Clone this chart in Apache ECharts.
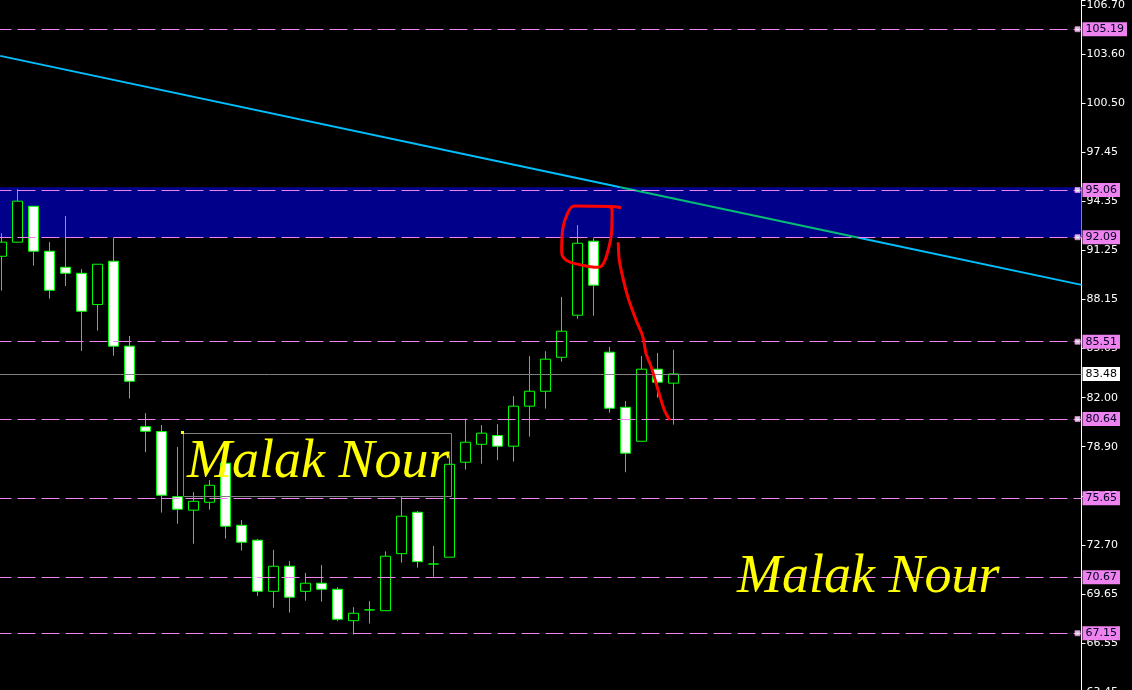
<!DOCTYPE html>
<html><head><meta charset="utf-8">
<script src="https://cdn.jsdelivr.net/npm/echarts@6/dist/echarts.min.js"></script>
<style>html,body{margin:0;padding:0;background:#000;overflow:hidden}#c{width:1132px;height:690px}</style>
</head><body><div id="c"></div>
<script>
// ---- data ----
const candleOpen  = [90.89,91.78,94.04,91.21,90.20,89.82,87.85,90.58,85.23,80.16,79.85,75.75,74.90,75.40,77.86,73.95,73.01,69.79,71.37,69.79,70.30,69.92,67.94,68.62,68.57,72.16,74.77,71.51,71.94,77.92,79.05,79.60,78.93,81.45,82.39,84.53,87.18,91.84,84.85,81.38,79.24,83.78,82.90];
const candleClose = [91.78,94.36,91.21,88.75,89.82,87.43,90.39,85.23,83.02,79.87,75.84,74.96,75.46,76.47,73.89,72.88,69.79,71.37,69.42,70.30,69.92,68.03,68.41,68.62,72.00,74.52,71.66,71.51,77.79,79.18,79.75,78.93,81.45,82.39,84.41,86.17,91.71,89.07,81.32,78.49,83.78,82.96,83.48];
const candleLow   = [88.73,91.78,90.30,88.22,89.02,84.93,86.21,84.63,81.93,78.55,74.75,74.05,72.79,74.93,73.11,72.35,69.50,68.76,68.45,69.20,69.14,67.91,67.06,67.76,68.57,71.60,71.28,70.71,71.94,77.45,77.83,78.05,77.96,79.53,81.30,84.25,86.96,87.15,81.04,77.29,79.24,81.99,80.29];
const candleHigh  = [92.34,95.11,94.04,91.78,93.43,90.09,90.39,92.05,85.87,81.01,80.27,78.88,76.03,76.80,78.00,74.28,73.09,72.40,71.70,70.95,71.45,70.05,68.79,69.17,72.31,75.75,74.85,72.65,78.36,80.67,80.25,80.31,82.08,84.60,84.91,88.33,92.85,92.03,85.18,81.78,84.61,84.80,85.00];
const slotCount = 68;
const tickLabels = ['63.45','66.55','69.65','72.70','75.75','78.90','82.00','85.05','88.15','91.25','94.35','97.45','100.50','103.60','106.70'];
const levelLines = [105.19, 95.06, 92.09, 85.51, 80.64, 75.65, 70.67, 67.15];
const levelsWithSquare = [105.19, 95.06, 92.09, 85.51, 80.64, 67.15];
const currentPrice = 83.48;
const bandRange = [95.24, 92.06];
const trendLine = [[-0.08, 103.51], [67.5, 89.09]];
const redCircle = [[38.72,93.95],[38.09,94.02],[35.80,94.06],[35.38,93.60],[35.07,92.55],[35.01,91.18],[35.28,90.66],[36.21,90.35],[37.26,90.20],[37.57,90.35],[37.89,91.18],[38.14,92.55],[38.16,93.81],[37.98,94.06]];
const redCurve = [[38.55,91.78],[38.61,90.66],[38.82,89.61],[39.14,88.35],[39.66,86.88],[40.08,85.83],[40.28,84.78],[40.60,83.94],[40.91,82.90],[41.22,81.84],[41.47,81.11],[41.77,80.58]];
const watermark = 'Malak Nour';

// ---- build ----
const yMin = 63.45, yMax = 107.03, yInterval = 3.089286;
const cats = Array.from({length: slotCount}, (_, i) => String(i));
const candles = candleOpen.map((o, i) => [o, candleClose[i], candleLow[i], candleHigh[i]]);

// split the trend line where it crosses the band (colour changes there)
const [p0, p1] = trendLine;
const xAt = v => p0[0] + (v - p0[1]) * (p1[0] - p0[0]) / (p1[1] - p0[1]);
const tTop = [xAt(bandRange[0]), bandRange[0]];
const tBot = [xAt(bandRange[1]), bandRange[1]];
const squares = levelsWithSquare.map(v => [slotCount - 0.5, v]);

const FONT = 'DejaVu Sans';
const chart = echarts.init(document.getElementById('c'), null, {renderer: 'canvas'});
chart.setOption({
  backgroundColor: '#000',
  animation: false,
  grid: {left: -6.5, right: 50.5, top: 0, bottom: -2, containLabel: false, outerBoundsMode: 'none'},
  xAxis: [
    {type: 'category', data: cats, boundaryGap: true, show: false},
    {type: 'value', min: -0.5, max: slotCount - 0.5, show: false}
  ],
  yAxis: {
    type: 'value', position: 'right', min: yMin, max: yMax, interval: yInterval,
    splitLine: {show: false},
    axisLine: {show: true, onZero: false, lineStyle: {color: '#ffffff', width: 1}},
    axisTick: {show: true, length: 4, lineStyle: {color: '#ffffff'}},
    axisLabel: {
      color: '#ffffff', fontFamily: FONT, fontSize: 11, margin: 5,
      formatter: v => {
        const k = Math.round((v - yMin) / yInterval);
        if (k < 0 || k >= tickLabels.length) return '';
        if (Math.abs(v - (yMin + k * yInterval)) > 0.01) return '';
        return tickLabels[k];
      }
    }
  },
  series: [
    {
      name: 'band', type: 'line', xAxisIndex: 1, data: [], z: 1, silent: true,
      markArea: {silent: true, itemStyle: {color: '#00008B', opacity: 1},
        data: [[{yAxis: bandRange[0]}, {yAxis: bandRange[1]}]]}
    },
    {
      name: 'price', type: 'candlestick', xAxisIndex: 0, data: candles, z: 3, barWidth: 10,
      itemStyle: {color: '#000000', color0: '#ffffff', borderColor: '#00ff00', borderColor0: '#00ff00', borderWidth: 1}
    },
    {
      name: 'trend1', type: 'line', xAxisIndex: 1, z: 4, symbol: 'none', silent: true,
      data: [p0, tTop], lineStyle: {color: '#00BFFF', width: 2}
    },
    {
      name: 'trend2', type: 'line', xAxisIndex: 1, z: 4, symbol: 'none', silent: true,
      data: [tTop, tBot], lineStyle: {color: '#00BF74', width: 2}
    },
    {
      name: 'trend3', type: 'line', xAxisIndex: 1, z: 4, symbol: 'none', silent: true,
      data: [tBot, p1], lineStyle: {color: '#00BFFF', width: 2}
    },
    {
      name: 'levels', type: 'line', xAxisIndex: 1, data: [], z: 5, silent: true,
      markLine: {
        silent: true, animation: false, symbol: ['none', 'none'],
        lineStyle: {color: '#EE82EE', type: [18, 6], width: 1},
        label: {show: true, position: 'end', distance: 1, fontFamily: FONT, fontSize: 11,
          color: '#000022', backgroundColor: '#EE82EE', padding: [2, 3, 1, 3],
          formatter: p => p.value.toFixed(2)},
        data: levelLines.map(v => ({yAxis: v})).concat([{
          yAxis: currentPrice,
          lineStyle: {color: '#808080', type: 'solid', width: 1},
          label: {backgroundColor: '#ffffff', color: '#000000'}
        }])
      }
    },
    {
      name: 'squares', type: 'scatter', xAxisIndex: 1, z: 6, silent: true,
      data: squares, symbol: 'rect', symbolSize: 5, symbolOffset: [-4, 0],
      itemStyle: {color: '#ffffff', borderColor: '#EE82EE', borderWidth: 1}
    },
    {
      name: 'circle', type: 'line', xAxisIndex: 1, z: 6, symbol: 'none', smooth: 0.4, silent: true,
      data: redCircle, lineStyle: {color: '#ff0000', width: 3}
    },
    {
      name: 'curve', type: 'line', xAxisIndex: 1, z: 6, symbol: 'none', smooth: 0.4, silent: true,
      data: redCurve, lineStyle: {color: '#ff0000', width: 3}
    }
  ],
  graphic: [
    {type: 'rect', z: 100, shape: {x: 183.5, y: 433.5, width: 268, height: 63},
      style: {fill: 'none', stroke: '#808080', lineWidth: 1}},
    {type: 'rect', z: 101, shape: {x: 181, y: 431, width: 3, height: 3}, style: {fill: '#ffff00'}},
    {type: 'text', z: 101, x: 187, y: 463,
      style: {text: watermark, font: 'italic 54px "Liberation Serif"', fill: '#ffff00', verticalAlign: 'middle'}},
    {type: 'text', z: 101, x: 737, y: 578,
      style: {text: watermark, font: 'italic 54px "Liberation Serif"', fill: '#ffff00', verticalAlign: 'middle'}}
  ]
});
</script>
</body></html>
